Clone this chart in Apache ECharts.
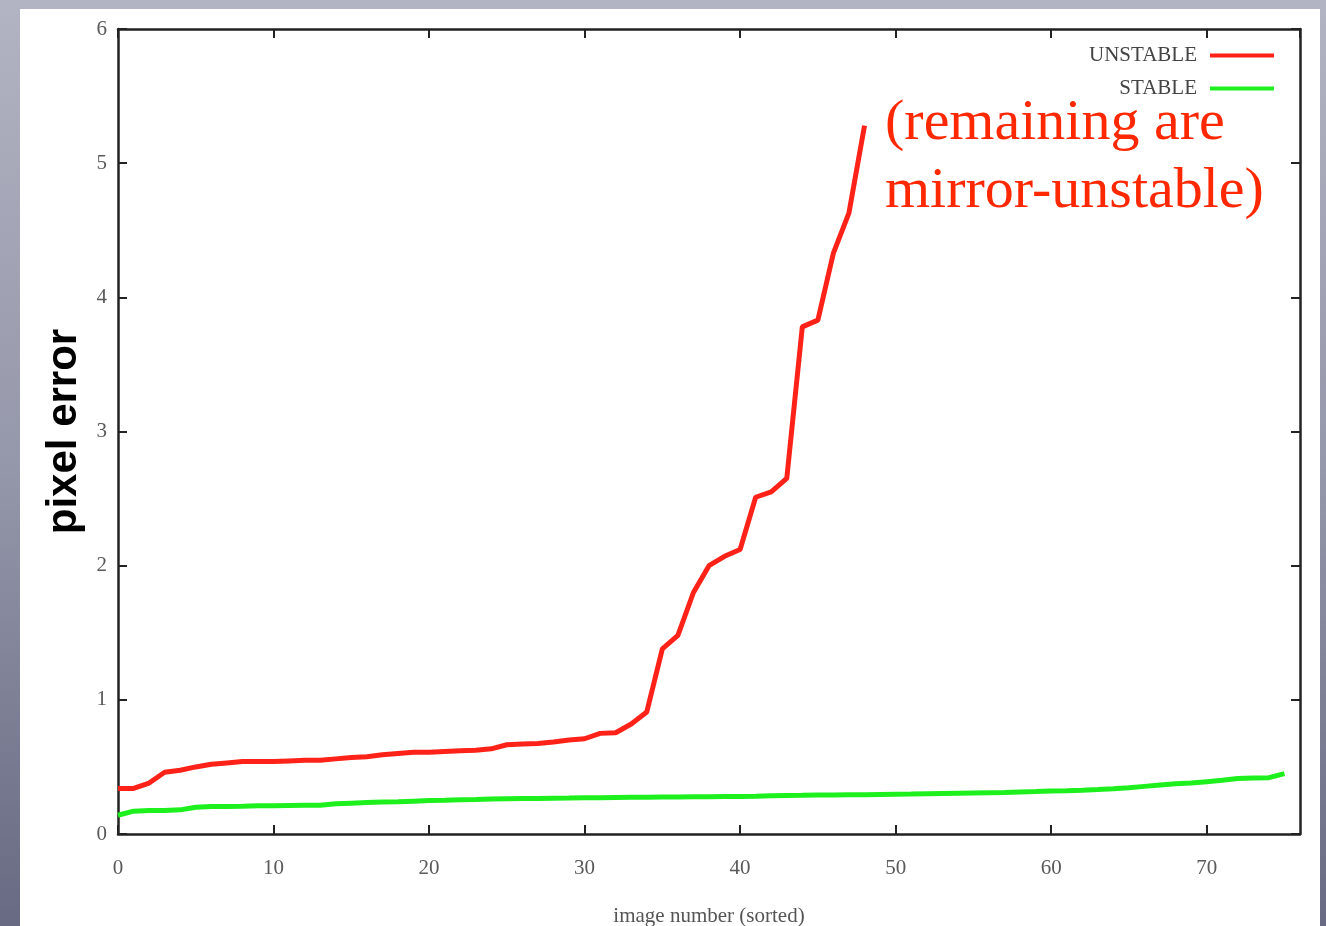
<!DOCTYPE html>
<html lang="en">
<head>
    <meta charset="UTF-8">
    <title>pixel error</title>
    <script src="https://cdn.jsdelivr.net/npm/echarts@6/dist/echarts.min.js"></script>
    <style>
        html, body { margin: 0; padding: 0; }
        body {
            width: 1326px; height: 926px; overflow: hidden; position: relative;
            background: linear-gradient(to bottom, #b2b4c3 0%, #9597aa 50%, #686a83 100%);
        }
        #panel { position: absolute; left: 20px; top: 9px; width: 1300px; height: 917px; background: #fff; }
        #chart { position: absolute; left: 0; top: 0; width: 1326px; height: 926px; }
    </style>
</head>
<body>
    <div id="panel"></div>
    <div id="chart"></div>
    <script>
        // 图例名称
        let seriesNames = ['UNSTABLE', 'STABLE'];
        // 不稳定图像误差（按大小排序）
        let unstableError = [
            0.34, 0.34, 0.38, 0.46, 0.475, 0.50, 0.52, 0.53, 0.54, 0.54,
            0.54, 0.545, 0.55, 0.55, 0.56, 0.57, 0.575, 0.59, 0.60, 0.61,
            0.61, 0.615, 0.62, 0.625, 0.635, 0.665, 0.67, 0.675, 0.685, 0.70,
            0.71, 0.75, 0.755, 0.82, 0.91, 1.38, 1.48, 1.80, 2.00, 2.07,
            2.12, 2.51, 2.55, 2.65, 3.78, 3.83, 4.33, 4.63, 5.28
        ];
        // 稳定图像误差
        let stableError = [
            0.14, 0.17, 0.175, 0.175, 0.18, 0.20, 0.205, 0.205, 0.207, 0.21,
            0.21, 0.213, 0.215, 0.215, 0.225, 0.23, 0.235, 0.238, 0.24, 0.245,
            0.25, 0.252, 0.255, 0.257, 0.26, 0.262, 0.264, 0.265, 0.267, 0.268,
            0.27, 0.27, 0.272, 0.273, 0.274, 0.275, 0.276, 0.277, 0.278, 0.279,
            0.28, 0.282, 0.285, 0.287, 0.288, 0.29, 0.291, 0.292, 0.293, 0.295,
            0.297, 0.298, 0.30, 0.302, 0.304, 0.306, 0.308, 0.31, 0.313, 0.316,
            0.32, 0.323, 0.327, 0.332, 0.338, 0.345, 0.355, 0.365, 0.375, 0.38,
            0.39, 0.40, 0.413, 0.418, 0.42, 0.45
        ];
        // 注释文字
        let noteText = '(remaining are\nmirror-unstable)';

        let serif = '"Liberation Serif", "DejaVu Serif", serif';
        let labelStyle = { fontFamily: serif, fontSize: 21, color: '#5a5a5a' };
        // 边框线（不要贴到 0 上）
        let borderLine = { show: true, onZero: false, lineStyle: { color: '#222', width: 2.5 } };
        let innerTick = { show: true, inside: true, length: 9, lineStyle: { color: '#222', width: 2 } };

        function toPoints(arr) {
            return arr.map((v, i) => [i, v]);
        }

        let chart = echarts.init(document.getElementById('chart'));
        chart.setOption({
            animation: false,
            backgroundColor: 'transparent',
            grid: { left: 118, top: 29, right: 26, bottom: 92, outerBoundsMode: 'none' },
            legend: {
                data: seriesNames,
                orient: 'vertical',
                align: 'right',
                right: 47,
                top: 40,
                itemWidth: 64,
                itemHeight: 4,
                itemGap: 12,
                icon: 'rect',
                textStyle: { fontFamily: serif, fontSize: 21, color: '#444', padding: [0, 8, 0, 0] }
            },
            xAxis: [{
                type: 'value', min: 0, max: 76, interval: 10, position: 'bottom',
                name: 'image number (sorted)', nameLocation: 'middle', nameGap: 72,
                nameTextStyle: { fontFamily: serif, fontSize: 21, color: '#555' },
                axisLine: borderLine, axisTick: innerTick, splitLine: { show: false },
                axisLabel: Object.assign({ margin: 24, showMaxLabel: false }, labelStyle)
            }, {
                type: 'value', min: 0, max: 76, interval: 10, position: 'top',
                axisLine: borderLine, axisTick: innerTick, splitLine: { show: false },
                axisLabel: { show: false }
            }],
            yAxis: [{
                type: 'value', min: 0, max: 6, interval: 1, position: 'left',
                name: 'pixel error', nameLocation: 'middle', nameGap: 30,
                nameTextStyle: { fontFamily: '"Liberation Sans", Arial, sans-serif', fontSize: 42, fontWeight: 'bold', color: '#000' },
                axisLine: borderLine, axisTick: innerTick, splitLine: { show: false },
                axisLabel: Object.assign({ margin: 11 }, labelStyle)
            }, {
                type: 'value', min: 0, max: 6, interval: 1, position: 'right',
                axisLine: borderLine, axisTick: innerTick, splitLine: { show: false },
                axisLabel: { show: false }
            }],
            series: [{
                name: seriesNames[0],
                type: 'line',
                data: toPoints(unstableError),
                showSymbol: false,
                itemStyle: { color: '#ff2218' },
                lineStyle: { color: '#ff2218', width: 5 },
                z: 3
            }, {
                name: seriesNames[1],
                type: 'line',
                data: toPoints(stableError),
                showSymbol: false,
                itemStyle: { color: '#1ef01e' },
                lineStyle: { color: '#1ef01e', width: 5 },
                z: 2
            }],
            graphic: [{
                type: 'text',
                left: 885,
                top: 90,
                z: 10,
                style: {
                    text: noteText,
                    font: '58px "Liberation Serif", serif',
                    lineHeight: 68,
                    fill: '#ff2800'
                }
            }]
        });
    </script>
</body>
</html>
